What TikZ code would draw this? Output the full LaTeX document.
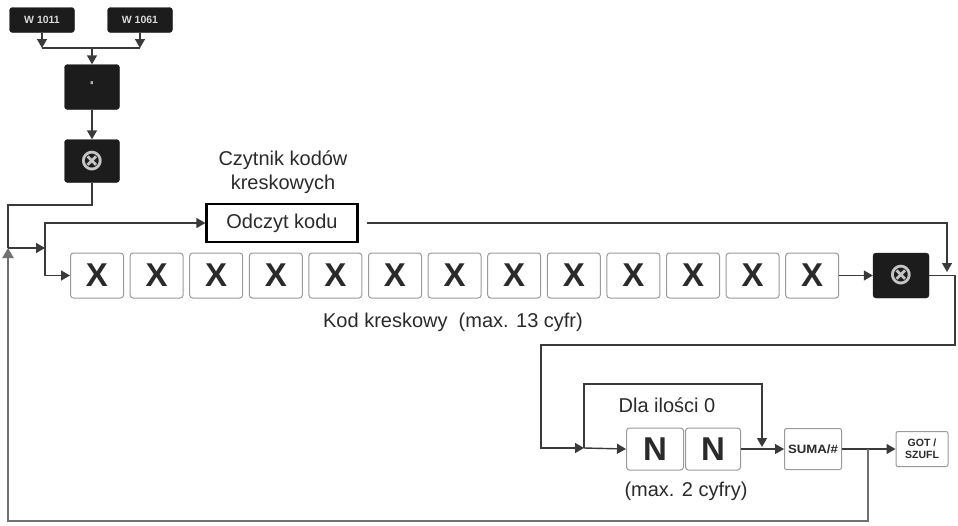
\documentclass[tikz,border=0pt]{standalone}
\usepackage{fontspec}
\setmainfont{Liberation Sans}
\newfontfamily\symfont{DejaVu Sans}
\usetikzlibrary{arrows.meta,calc}
\definecolor{lncol}{HTML}{3A3A3A}
\definecolor{lnlight}{HTML}{707070}
\definecolor{boxdark}{HTML}{1C1C1C}
\definecolor{keyborder}{HTML}{9A9A9A}
\definecolor{txt}{HTML}{2A2A2A}
\begin{document}
\begin{tikzpicture}[x=1pt,y=-1pt,
  ln/.style={draw=lncol, line width=1.4pt},
  arr/.style={ln, -{Triangle[length=9pt,width=10pt]}},
  darkbox/.style={fill=boxdark, draw=boxdark, rounded corners=3pt, inner sep=0pt},
  wbox/.style={darkbox, minimum width=65pt, minimum height=25pt, font=\fontsize{10.5}{10.5}\selectfont\bfseries, text=gray!30},
  keybox/.style={draw=keyborder, line width=1pt, rounded corners=3pt, fill=white, minimum width=53pt, minimum height=45pt, inner sep=0pt, font=\fontsize{33}{33}\selectfont\bfseries, text=txt},
  smallkey/.style={draw=keyborder, line width=1pt, rounded corners=2pt, fill=white, inner sep=0pt, font=\fontsize{10}{10}\selectfont\bfseries, text=txt, align=center},
  lbl/.style={font=\fontsize{20}{24}\selectfont, text=txt, inner sep=0pt}]
\useasboundingbox (0,0) rectangle (958,525);

% top keys
\node[wbox] (w1) at (42,20) {W 1011};
\node[wbox] (w2) at (140,20) {W 1061};
\node[darkbox, minimum width=55pt, minimum height=45pt, font=\symfont\fontsize{24}{24}\selectfont, text=gray!60] (dot) at (92,87) {·};
\node[darkbox, minimum width=55pt, minimum height=43pt, font=\symfont\bfseries\fontsize{30}{30}\selectfont, text=gray!45] (m1) at (92,161) {⊗};

\coordinate (wj) at (92,48);
\draw[arr] (w1.south) -- (w1.south |- wj);
\draw[arr] (w2.south) -- (w2.south |- wj);
\draw[ln] (w1.south |- wj) -- (w2.south |- wj);
\draw[arr] (wj) -- (dot.north);
\draw[arr] (dot.south) -- (m1.north);

% left branch
\coordinate (ja) at (8,248);
\coordinate (jb) at (45,248);
\draw[ln] (m1.south) -- (92,205) -- (8,205) -- (ja);
\draw[arr] (ja) -- (jb);

\node[draw=black, line width=2.2pt, minimum width=151pt, minimum height=38pt, font=\fontsize{20}{24}\selectfont, text=txt] (odc) at (282,223) {Odczyt kodu};
\node[lbl, align=center] (czy) at (283,172) {Czytnik kodów\\kreskowych};

\foreach \i in {1,...,13} {
  \node[keybox] (x\i) at ({97+(\i-1)*59.6},275.5) {X};
}
\draw[arr] (jb) |- (odc.west);
\draw[arr] (jb) |- (x1.west);

\node[darkbox, minimum width=56pt, minimum height=45pt, font=\symfont\bfseries\fontsize{30}{30}\selectfont, text=gray!45] (m2) at (901,275.5) {⊗};
\draw[arr] (x13.east) -- (m2.west);
\coordinate (c1) at (947,272);
\draw[arr, shorten <=8pt] (odc.east) -| (c1);

\node[lbl] (kod) at (453,322) {Kod kreskowy\ \ (max. 13 cyfr)};

% lower part
\coordinate (k) at (584,448);
\draw[arr] (m2.east) -- (955,275.5) -- (955,345) -- (541,345) -- (541,448) -- (k);
\node[keybox, minimum width=57pt, minimum height=42pt] (n1) at (655,449) {N};
\node[keybox, minimum width=55pt, minimum height=42pt] (n2) at (713,449) {N};
\node[smallkey, minimum width=57pt, minimum height=41pt, font=\fontsize{11}{11}\selectfont\bfseries] (suma) at (813,449) {\scalebox{1.2}[1.1]{SUMA/\#}};
\node[smallkey, minimum width=52pt, minimum height=35pt, font=\fontsize{10.5}{12}\selectfont\bfseries] (got) at (922,449) {GOT /\\SZUFL};
\draw[arr] (k) -- (n1.west);
\draw[arr] (k) -- (584,384) -- (762,384) -- (762,447);
\draw[arr] (n2.east) -- (suma.west);
\draw[arr] (suma.east) -- (got.west);
\node[lbl] (dla) at (667,405) {Dla ilości 0};
\node[lbl] (max2) at (686,491) {(max. 2 cyfry)};

\coordinate (s) at (868,449);
\draw[draw=lnlight, line width=2.2pt, -{Triangle[length=10pt,width=11pt]}] (s) -- (868,521) -- (8,521) -- (ja);
\end{tikzpicture}
\end{document}
